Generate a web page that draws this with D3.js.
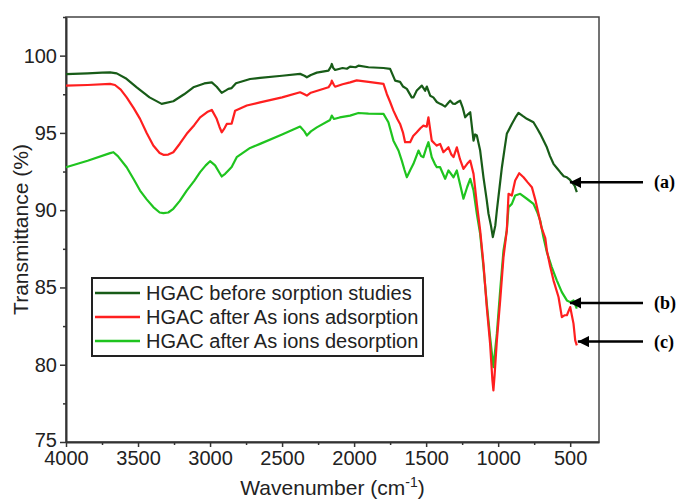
<!DOCTYPE html>
<html>
<head>
<meta charset="utf-8">
<script src="https://cdn.jsdelivr.net/npm/d3@7"></script>
<style>
  body { margin: 0; background: #fff; }
  svg { display: block; font-family: "Liberation Sans", Arial, sans-serif; }
</style>
</head>
<body>
<div id="chart"></div>
<script>
// FTIR spectra of HGAC (wavenumber cm-1, transmittance %)
var waveBefore = [4000,3850,3750,3694,3648,3580,3509,3420,3336,3255,3180,3116,3040,2988,2954,2919,2890,2873,2850,2820,2722,2653,2500,2375,2345,2328,2300,2259,2178,2160,2155,2145,2132,2080,2050,2028,1990,1970,1900,1796,1750,1715,1681,1660,1634,1600,1588,1565,1530,1507,1495,1472,1450,1426,1403,1385,1368,1350,1333,1315,1299,1280,1264,1245,1229,1210,1194,1171,1160,1148,1125,1102,1080,1067,1050,1037,1020,1009,990,974,955,940,905,880,859,830,801,755,730,708,662,640,616,590,569,545,523,505,488,470,454];
var transBefore = [98.8,98.85,98.9,98.92,98.85,98.5,97.95,97.3,96.88,97.05,97.5,97.95,98.2,98.27,97.99,97.59,97.75,97.85,97.9,98.21,98.49,98.56,98.7,98.82,98.7,98.6,98.75,98.9,99.03,99.3,99.46,99.2,99.07,99.2,99.15,99.29,99.25,99.35,99.25,99.2,99.14,98.38,98.3,98.0,97.85,97.3,97.3,97.74,98.06,97.73,98.0,97.41,97.3,97.0,96.88,96.8,96.7,96.9,97.09,96.9,96.88,97.0,97.09,96.6,96.01,96.2,96.34,94.5,94.9,94.83,93.86,92.13,90.7,89.77,89.0,88.26,89.0,89.98,91.5,92.78,94.0,94.94,95.58,96.0,96.3,96.1,95.91,95.69,95.3,94.94,94.07,93.5,93.0,92.7,92.46,92.2,92.13,92.0,91.81,91.6,91.17];

var waveAds = [4000,3850,3694,3660,3620,3579,3530,3486,3440,3394,3350,3324,3290,3255,3210,3162,3110,3069,3020,2988,2954,2935,2919,2900,2884,2850,2826,2745,2653,2500,2375,2345,2328,2300,2178,2160,2155,2140,2132,2080,2028,1982,1900,1796,1773,1750,1727,1700,1681,1660,1646,1611,1590,1565,1540,1519,1496,1484,1461,1440,1426,1403,1380,1345,1325,1310,1287,1265,1241,1215,1194,1171,1148,1125,1102,1079,1056,1040,1033,1025,1009,986,963,940,928,915,905,882,854,824,795,766,740,720,700,673,662,640,616,581,558,540,523,500,477,465,454];
var transAds = [98.06,98.1,98.17,98.1,97.8,97.3,96.6,95.91,95.0,94.18,93.7,93.58,93.6,93.75,94.3,94.94,95.5,96.01,96.35,96.49,95.91,95.4,95.04,95.3,95.58,95.6,96.44,96.77,96.98,97.3,97.63,97.5,97.41,97.6,97.95,98.2,98.38,98.1,97.99,98.15,98.27,98.4,98.3,98.17,97.52,97.0,96.44,95.9,95.58,95.0,94.4,94.4,94.8,95.04,95.3,95.47,95.4,96.01,94.5,94.3,94.18,94.29,93.75,94.07,93.6,93.43,94.07,93.3,92.67,93.0,93.21,92.35,90.41,88.69,86.53,83.73,81.36,79.0,78.34,79.3,81.58,84.16,86.96,88.69,91.06,91.0,90.95,91.92,92.39,92.13,91.8,91.49,90.6,89.77,88.9,88.2,87.4,86.4,85.46,84.38,83.08,83.2,83.2,83.73,82.66,81.58,81.25];

var waveDes = [4000,3850,3694,3671,3640,3579,3530,3486,3440,3394,3350,3324,3290,3255,3210,3162,3110,3069,3030,3000,2965,2940,2919,2895,2873,2850,2815,2722,2653,2500,2375,2345,2328,2300,2259,2167,2155,2140,2100,2028,1970,1900,1796,1762,1727,1692,1669,1650,1634,1610,1588,1553,1535,1519,1500,1484,1461,1440,1426,1403,1368,1345,1310,1287,1265,1241,1215,1194,1171,1148,1125,1102,1079,1056,1033,1009,986,963,940,928,905,882,847,801,755,730,708,686,662,628,593,558,523,500,477,454];
var transDes = [92.78,93.2,93.69,93.75,93.5,92.78,92.0,91.27,90.7,90.2,89.85,89.81,89.85,90.09,90.6,91.27,91.9,92.46,92.9,93.17,92.9,92.5,92.18,92.35,92.57,92.8,93.43,94.03,94.29,94.9,95.41,95.1,94.83,95.1,95.36,95.84,96.12,95.9,96.0,96.12,96.29,96.25,96.23,95.69,94.5,93.86,93.21,92.6,92.13,92.6,93.0,93.86,93.5,93.43,94.0,94.4,93.43,93.0,92.78,92.78,92.03,92.57,92.13,92.57,91.7,90.74,91.5,92.03,91.27,89.77,88.47,86.32,83.95,81.79,79.85,82.01,84.81,87.4,88.69,90.2,90.41,90.95,91.06,90.74,90.41,89.9,89.33,88.26,87.29,86.32,85.46,84.7,84.16,84.05,84.16,83.63];

var seriesNames = ["HGAC before sorption studies", "HGAC after As ions adsorption", "HGAC after As ions desorption"];
var seriesColors = ["#185c18", "#ff1f1f", "#1fc41f"];
var xTicks = [4000, 3500, 3000, 2500, 2000, 1500, 1000, 500];
var yTicks = [75, 80, 85, 90, 95, 100];
var markLabels = ["(a)", "(b)", "(c)"];
var markValues = [[488, 91.8], [488, 84.0], [454, 81.5]];

var width = 681, height = 500;
var margin = {left: 66, right: 82, top: 17, bottom: 58};

var svg = d3.select("#chart").append("svg")
    .attr("width", width)
    .attr("height", height);

var x = d3.scaleLinear().domain([4000, 300]).range([margin.left, width - margin.right]);
var y = d3.scaleLinear().domain([75, 102.5]).range([height - margin.bottom, margin.top]);

// frame
svg.append("rect")
    .attr("x", x(4000)).attr("y", y(102.5))
    .attr("width", x(300) - x(4000)).attr("height", y(75) - y(102.5))
    .attr("fill", "none").attr("stroke", "#444").attr("stroke-width", 1.5);

// minor ticks
var xMinor = xTicks.map(function(d) { return d - 250; }).filter(function(d) { return d > 300; });
var yMinor = yTicks.map(function(d) { return d + 2.5; });

svg.append("g")
    .attr("transform", "translate(0," + y(75) + ")")
    .call(d3.axisBottom(x).tickValues(xMinor).tickSize(3).tickFormat(""))
    .call(function(g) { g.select(".domain").remove(); });

svg.append("g")
    .attr("transform", "translate(" + x(4000) + ",0)")
    .call(d3.axisLeft(y).tickValues(yMinor).tickSize(3).tickFormat(""))
    .call(function(g) { g.select(".domain").remove(); });

var xAxis = svg.append("g")
    .attr("transform", "translate(0," + y(75) + ")")
    .call(d3.axisBottom(x).tickValues(xTicks).tickSize(5).tickPadding(4)
        .tickSizeOuter(0).tickFormat(d3.format("d")));

var yAxis = svg.append("g")
    .attr("transform", "translate(" + x(4000) + ",0)")
    .call(d3.axisLeft(y).tickValues(yTicks).tickSize(6).tickPadding(3)
        .tickSizeOuter(0).tickFormat(d3.format("d")));

svg.selectAll(".tick line").attr("stroke", "#333").attr("stroke-width", 1.5);
svg.selectAll(".domain").attr("stroke", "#333").attr("stroke-width", 2);
svg.selectAll(".tick text")
    .attr("font-size", "20px")
    .attr("font-family", "Liberation Sans, Arial, sans-serif")
    .attr("fill", "#222");
// "75" sits a touch high so it clears "4000"
yAxis.selectAll(".tick text").filter(function(d) { return d == 75; }).attr("dy", "0.2em");

// axis titles
var xt = svg.append("text")
    .attr("x", (x(4000) + x(300)) / 2)
    .attr("y", 495)
    .attr("text-anchor", "middle")
    .attr("font-size", "21px")
    .attr("fill", "#222");
xt.append("tspan").text("Wavenumber (cm");
xt.append("tspan").attr("dy", "-8").attr("font-size", "14px").text("-1");
xt.append("tspan").attr("dy", "8").text(")");

svg.append("text")
    .attr("transform", "translate(28," + (y(75) + y(102.5)) / 2 + ") rotate(-90)")
    .attr("text-anchor", "middle")
    .attr("font-size", "21px")
    .attr("fill", "#222")
    .text("Transmittance (%)");

// spectra
var line = d3.line()
    .x(function(d) { return x(d[0]); })
    .y(function(d) { return y(d[1]); });

var allSeries = [
    d3.zip(waveBefore, transBefore),
    d3.zip(waveAds, transAds),
    d3.zip(waveDes, transDes)
];

// draw desorption first so dark green sits on top as in the figure
[2, 1, 0].forEach(function(i) {
    svg.append("path")
        .datum(allSeries[i])
        .attr("d", line)
        .attr("fill", "none")
        .attr("stroke", seriesColors[i])
        .attr("stroke-width", 2.2)
        .attr("stroke-linejoin", "round");
});

// legend
var lg = svg.append("g");
lg.append("rect")
    .attr("x", 92).attr("y", 278)
    .attr("width", 331).attr("height", 78)
    .attr("fill", "#fff").attr("stroke", "#222").attr("stroke-width", 2);

seriesNames.forEach(function(name, i) {
    var yy = 293 + i * 24;
    lg.append("line")
        .attr("x1", 95).attr("x2", 140)
        .attr("y1", yy).attr("y2", yy)
        .attr("stroke", seriesColors[i]).attr("stroke-width", 2.5);
    lg.append("text")
        .attr("x", 146).attr("y", yy + 7)
        .attr("font-size", "20px")
        .attr("fill", "#222")
        .text(name);
});

// arrow annotations
svg.append("defs").append("marker")
    .attr("id", "head")
    .attr("viewBox", "0 0 10 10")
    .attr("refX", 10).attr("refY", 5)
    .attr("markerWidth", 4.5).attr("markerHeight", 4.5)
    .attr("markerUnits", "strokeWidth")
    .attr("orient", "auto")
  .append("path")
    .attr("d", "M0,0L10,5L0,10z")
    .attr("fill", "#000");

markLabels.forEach(function(lab, i) {
    var tx = x(markValues[i][0]) + (i == 2 ? 1 : -2);
    var ty = y(markValues[i][1]);
    svg.append("line")
        .attr("x1", 643).attr("x2", tx)
        .attr("y1", ty).attr("y2", ty)
        .attr("stroke", "#000").attr("stroke-width", 2.5)
        .attr("marker-end", "url(#head)");
    svg.append("text")
        .attr("x", 654).attr("y", ty + 6)
        .attr("font-family", "Liberation Serif, Times New Roman, serif")
        .attr("font-weight", "bold")
        .attr("font-size", "18px")
        .attr("fill", "#000")
        .text(lab);
});
</script>
</body>
</html>
